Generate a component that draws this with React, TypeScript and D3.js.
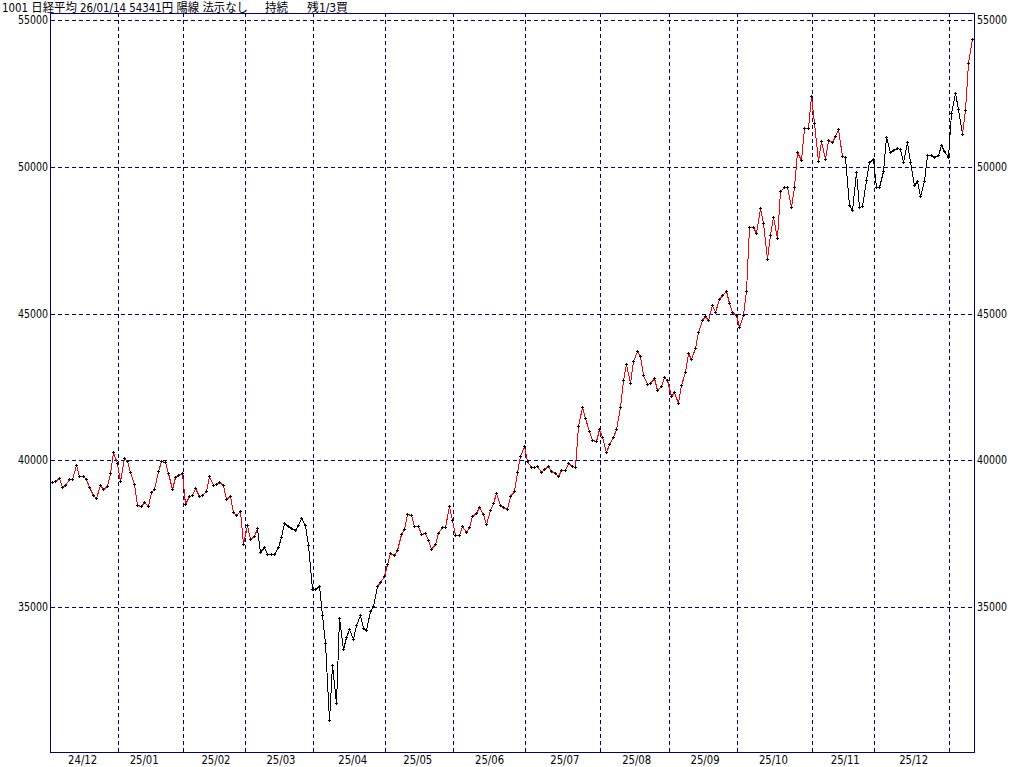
import React from 'react';
import * as d3 from 'd3';

// daily closes, one array per month (trading days only)
const dec24 = [39248, 39276, 39395, 39091, 39160, 39367, 39372, 39849, 39470, 39457, 39364, 39081, 38813, 38701, 39161, 39036, 39130, 39568, 40281, 39894];
const jan25 = [39307, 40083, 39981, 39605, 39190, 38474, 38444, 38572, 38451, 38902, 39027, 39646, 39958, 39931, 39565, 39016, 39414, 39513, 39572];
const feb25 = [38520, 38798, 38831, 39066, 38787, 38801, 38963, 39461, 39149, 39174, 39270, 39164, 38678, 38776, 38237, 38142, 38256, 37155];
const mar25 = [37785, 37331, 37418, 37704, 36887, 37028, 36793, 36819, 36790, 37053, 37396, 37845, 37751, 37677, 37608, 37780, 38027, 37799, 37120, 35617];
const apr25 = [35624, 35725, 34735, 33780, 31136, 33012, 31714, 34609, 33586, 33982, 34267, 33920, 34377, 34730, 34279, 34220, 34868, 35039, 35705, 35839, 36045];
const may25 = [36452, 36830, 36779, 36928, 37503, 37644, 38183, 38128, 37755, 37753, 37498, 37529, 37299, 36985, 37160, 37531, 37724, 37722, 38432, 37965];
const jun25 = [37470, 37446, 37747, 37554, 37741, 38088, 38211, 38421, 38173, 37834, 38311, 38536, 38885, 38488, 38403, 38354, 38790, 38942, 39584, 40150, 40487];
const jul25 = [39986, 39762, 39785, 39810, 39587, 39688, 39821, 39646, 39569, 39459, 39678, 39663, 39901, 39819, 39774, 41171, 41826, 41456, 40998, 40674, 40654, 41069];
const aug25 = [40799, 40290, 40549, 40794, 41059, 41820, 42718, 43274, 42649, 43378, 43714, 43546, 42888, 42610, 42633, 42807, 42394, 42520, 42829, 42718];
const sep25 = [42188, 42310, 41938, 42580, 43018, 43643, 43459, 43837, 44372, 44768, 44902, 44790, 45303, 45045, 45493, 45630, 45754, 45354, 45043, 44932];
const oct25 = [44550, 44936, 45769, 47944, 47950, 47734, 48580, 48088, 46847, 47672, 48277, 47582, 49185, 49316, 49307, 48641, 49299, 50512, 50219, 51307, 51325, 52411];
const nov25 = [51497, 50212, 50883, 50276, 50911, 50842, 51063, 51281, 50376, 50323, 48702, 48537, 49823, 48625, 48659, 49559, 50167, 50253];
const dec25 = [49303, 49303, 49864, 51028, 50491, 50581, 50655, 50602, 50148, 50837, 50168, 49383, 49512, 49001, 49507, 50402, 50412, 50344, 50407, 50750, 50526, 50339];
const jan26 = [51832, 52518, 51961, 51117, 51939, 53549, 54341];

const months = [dec24, jan25, feb25, mar25, apr25, may25, jun25, jul25, aug25, sep25, oct25, nov25, dec25, jan26];
const monthLabels = ['24/12', '25/01', '25/02', '25/03', '25/04', '25/05', '25/06', '25/07', '25/08', '25/09', '25/10', '25/11', '25/12', ''];
// trading day (within the month) the label sits on, i.e. around the 16th
const labelDay = [9, 7, 9, 10, 11, 9, 10, 11, 10, 10, 10, 9, 11, 0];
const priceTicks = [35000, 40000, 45000, 50000, 55000];
// point index ranges where the signal line is drawn black (sell side)
const blackRuns = [[60, 95], [231, 266]];
const titleParts = ['1001 日経平均 26/01/14 54341円 陽線 法示なし', '持続', '残1/3買'];

const NAVY = '#000080';
const FONT = "'DejaVu Sans Condensed', 'DejaVu Sans', 'Noto Sans CJK JP', sans-serif";

export default function App() {
  const closes = months.flat();
  const starts: number[] = [];
  let acc = 0;
  months.forEach(m => { starts.push(acc); acc += m.length; });

  const left = 51, right = 974, top = 13, bottom = 752;

  const x = d3.scaleLinear().domain([0, closes.length - 1]).range([51.8, 971.8]);
  const y = d3.scaleLinear().domain([35000, 55000]).range([607, 20]);

  const isBlack = (k: number) => blackRuns.some(([a, b]) => k >= a && k < b);
  const px = (i: number) => Math.round(x(i));
  const py = (v: number) => Math.round(y(v));

  return (
    <svg width={1024} height={767} style={{ position: 'absolute', left: 0, top: 0, background: '#fff' }}>
      {/* title */}
      <g fontFamily={FONT} fontSize={12} fill="#000">
        <text x={2} y={11.5} textLength={246} lengthAdjust="spacingAndGlyphs">{titleParts[0]}</text>
        <text x={265} y={11.5} textLength={23} lengthAdjust="spacingAndGlyphs">{titleParts[1]}</text>
        <text x={307} y={11.5} textLength={41} lengthAdjust="spacingAndGlyphs">{titleParts[2]}</text>
      </g>

      {/* grid */}
      <g stroke={NAVY} strokeWidth={1} strokeDasharray="4,3" shapeRendering="crispEdges">
        {priceTicks.map(t => (
          <line key={t} x1={left} x2={right} y1={py(t) + 0.5} y2={py(t) + 0.5} />
        ))}
        {starts.slice(1).map(s => {
          const xb = Math.floor(x(s - 0.5)) + 0.5;
          return <line key={s} x1={xb} x2={xb} y1={top} y2={bottom} />;
        })}
      </g>

      {/* price line */}
      <g strokeWidth={1} shapeRendering="crispEdges">
        {closes.slice(1).map((v, j) => {
          const i = j + 1;
          return (
            <line key={i}
              x1={px(i - 1) + 0.5} y1={py(closes[i - 1]) + 0.5}
              x2={px(i) + 0.5} y2={py(v) + 0.5}
              stroke={isBlack(i - 1) ? '#000' : '#ff0000'} />
          );
        })}
      </g>

      {/* point markers */}
      <g fill="#000" shapeRendering="crispEdges">
        {closes.map((v, i) => (
          <g key={i}>
            <rect x={px(i) - 1} y={py(v)} width={3} height={1} />
            <rect x={px(i)} y={py(v) - 1} width={1} height={3} />
          </g>
        ))}
      </g>

      {/* frame */}
      <rect x={left - 0.5} y={top + 0.5} width={right - left + 1} height={bottom - top}
        fill="none" stroke={NAVY} strokeWidth={1} shapeRendering="crispEdges" />

      {/* price labels */}
      <g fontFamily={FONT} fontSize={12} fill="#000">
        {priceTicks.map(t => (
          <g key={t}>
            <text x={48} y={py(t) + 4.2} textAnchor="end" textLength={30} lengthAdjust="spacingAndGlyphs">{t}</text>
            <text x={977} y={py(t) + 4.2} textLength={30} lengthAdjust="spacingAndGlyphs">{t}</text>
          </g>
        ))}
      </g>

      {/* month labels */}
      <g fontFamily={FONT} fontSize={12} fill="#000">
        {monthLabels.map((m, k) => m ? (
          <text key={m} x={x(starts[k] + labelDay[k])} y={764} textAnchor="middle"
            textLength={29} lengthAdjust="spacingAndGlyphs">{m}</text>
        ) : null)}
      </g>
    </svg>
  );
}
